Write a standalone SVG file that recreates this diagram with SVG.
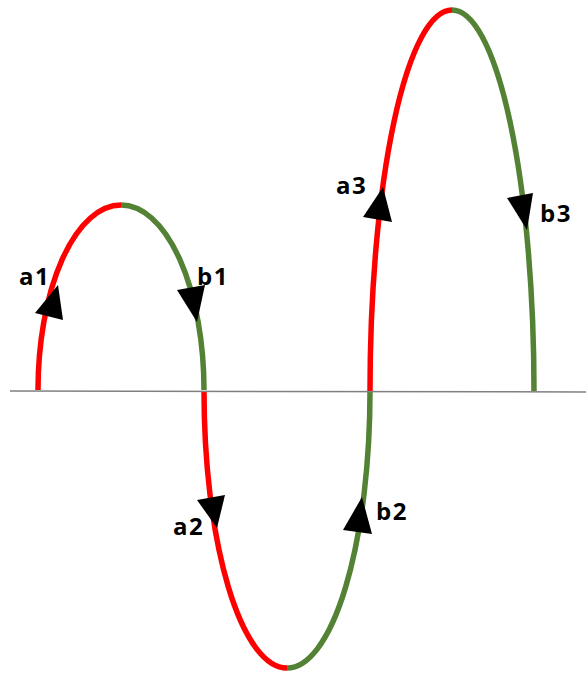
<svg xmlns="http://www.w3.org/2000/svg" width="586" height="677" viewBox="0 0 586 677">
<style>
.r{fill:none;stroke:#FF0000;stroke-width:5.5}
.g{fill:none;stroke:#548235;stroke-width:5.5}
.arr{fill:#000}
.lbl{font-family:"Open Sans","Liberation Sans",sans-serif;font-weight:bold;font-size:24px;letter-spacing:1.5px;fill:#000}
</style>
<rect width="586" height="677" fill="#fff"/>
<g id="connectors">
<path class="r" d="M38,390 A83,185 0 0 1 121,205"/>
<path class="g" d="M121,205 A83,185 0 0 1 204,390"/>
<path class="r" d="M204,391 A83,277 0 0 0 287,668"/>
<path class="g" d="M287,668 A83,277 0 0 0 370,391"/>
<path class="r" d="M370,391 A82,381 0 0 1 452,10"/>
<path class="g" d="M452,10 A82,381 0 0 1 534,391"/>
<line x1="10" y1="391" x2="586" y2="392" stroke="#808080" stroke-width="1.5"/>
</g>
<g id="a1"><polygon class="arr" points="58,285 35,313 63,320"/><text class="lbl" x="19" y="285">a1</text></g>
<g id="b1"><polygon class="arr" points="177,290 205,285 197,322"/><text class="lbl" x="197" y="285">b1</text></g>
<g id="a2"><polygon class="arr" points="197,500 225,495 217,528"/><text class="lbl" x="173" y="535">a2</text></g>
<g id="b2"><polygon class="arr" points="343,530 362,497 372,534"/><text class="lbl" x="376" y="520">b2</text></g>
<g id="a3"><polygon class="arr" points="363,217 383,187 392,222"/><text class="lbl" x="336" y="194">a3</text></g>
<g id="b3"><polygon class="arr" points="507,198 533,193 527,230"/><text class="lbl" x="540" y="222">b3</text></g>
</svg>
